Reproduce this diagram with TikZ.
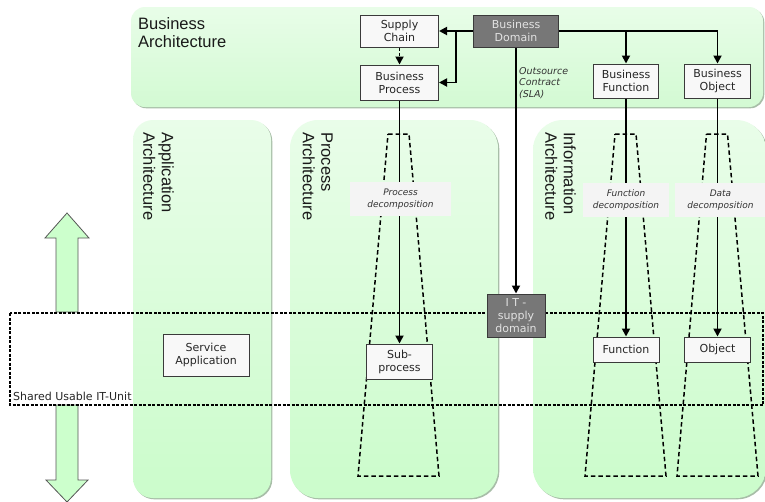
\documentclass[tikz,border=0pt]{standalone}
\usepackage{fontspec}
\setmainfont{Liberation Sans}
\newfontfamily\vfont{DejaVu Sans}
\usetikzlibrary{arrows.meta}
\definecolor{boxfill}{HTML}{F8F8F8}
\definecolor{boxline}{HTML}{3A3A3A}
\definecolor{darkfill}{HTML}{777777}
\definecolor{darktext}{HTML}{E2E2E2}
\definecolor{ptop}{HTML}{E9FDE9}
\definecolor{pbot}{HTML}{CBFCCB}
\definecolor{ttop}{HTML}{E8FDE8}
\definecolor{tbot}{HTML}{D3FAD3}
\definecolor{shadowc}{HTML}{A8BEA8}
\definecolor{arrfill}{HTML}{CCFFCC}
\definecolor{arrline}{HTML}{555555}
\definecolor{labfill}{HTML}{F4F4F4}
\begin{document}
\begin{tikzpicture}[x=1pt,y=-1pt,
  lbox/.style={draw=boxline, line width=1pt, fill=boxfill, inner sep=0pt, align=center,
    font=\vfont\fontsize{11}{13}\selectfont, text=black!85},
  dbox/.style={lbox, fill=darkfill, text=darktext},
  conn/.style={line width=1.8pt, -{Triangle[length=8pt,width=8pt]}},
  decolab/.style={fill=labfill, inner sep=0pt, align=center, minimum height=34pt,
    font=\vfont\itshape\fontsize{9}{12.3}\selectfont, text=black!80},
  trapline/.style={dash pattern=on 4.5pt off 3pt, line width=1.5pt},
  sharedline/.style={dash pattern=on 3pt off 1.5pt, line width=1.2pt},
  bigarrow/.style={fill=arrfill, draw=arrline, line width=0.8pt},
  panellab/.style={inner sep=0pt, align=left, font=\fontsize{16.5}{18.5}\selectfont, text=black!90},
  shadowbox/.style={fill=shadowc},
]
\useasboundingbox (0,0) rectangle (765,501);
\fill[white] (0,0) rectangle (765,501);

% panels
\fill[shadowbox, rounded corners=14pt] (132.3,8.3) rectangle (764.3,108.3);
\shade[top color=ttop, bottom color=tbot, rounded corners=14pt] (131,7) rectangle (763,107);
\fill[shadowbox, rounded corners=20pt] (134.3,121.3) rectangle (272.3,499.3);
\shade[top color=ptop, bottom color=pbot, rounded corners=20pt] (133,120) rectangle (271,498);
\fill[shadowbox, rounded corners=28pt] (291.3,121.3) rectangle (499.3,499.3);
\shade[top color=ptop, bottom color=pbot, rounded corners=28pt] (290,120) rectangle (498,498);
\fill[shadowbox, rounded corners=30pt] (534.3,121.3) rectangle (767.3,499.3);
\shade[top color=ptop, bottom color=pbot, rounded corners=30pt] (533,120) rectangle (766,498);

% panel labels
\node[panellab, anchor=north west] (ba) at (138,17) {Business\\Architecture};
\node[panellab, rotate=-90, anchor=north west] (aa) at (174,132) {Application\\Architecture};
\node[panellab, rotate=-90, anchor=north west] (pa) at (333,132) {Process\\Architecture};
\node[panellab, rotate=-90, anchor=north west] (ia) at (576,132) {Information\\Architecture};

% big arrows
\draw[bigarrow] (67,213) -- (89,238) -- (78,238) -- (78,312) -- (56,312) -- (56,238) -- (45,238) -- cycle;
\draw[bigarrow] (56,405) -- (78,405) -- (78,480) -- (88,480) -- (67,502) -- (46,480) -- (56,480) -- cycle;

% trapezoids
\draw[trapline] (388,134) -- (409,134) -- (439,476) -- (358,476) -- cycle;
\draw[trapline] (615,134) -- (636,134) -- (666,476) -- (585,476) -- cycle;
\draw[trapline] (706.5,134) -- (727.5,134) -- (758,476) -- (677,476) -- cycle;

% shared usable IT-unit
\draw[sharedline] (10,313) rectangle (763,405);
\node[anchor=base west, inner sep=0pt, font=\vfont\fontsize{11}{13}\selectfont, text=black!85] (shared) at (13,400.5) {Shared Usable IT-Unit};

% boxes
\node[lbox, minimum width=78pt, minimum height=32pt] (sc) at (399.5,31) {Supply\\Chain};
\node[dbox, minimum width=85pt, minimum height=32pt] (dom) at (516,31) {Business\\Domain};
\node[lbox, minimum width=78pt, minimum height=35pt] (bp) at (399.5,82.5) {Business\\Process};
\node[lbox, minimum width=65pt, minimum height=34pt] (bf) at (626,81) {Business\\Function};
\node[lbox, minimum width=66pt, minimum height=34pt] (bo) at (717.5,81) {Business\\Object};
\node[lbox, minimum width=66pt, minimum height=35pt] (sub) at (399.5,361.5) {Sub-\\process};
\node[dbox, minimum width=58pt, minimum height=43pt] (it) at (516,315.5) {I T -\\supply\\domain};
\node[lbox, minimum width=66pt, minimum height=25pt] (fn) at (626,349.5) {Function};
\node[lbox, minimum width=66pt, minimum height=25pt] (ob) at (717.5,349.5) {Object};
\node[lbox, minimum width=86pt, minimum height=42pt] (sa) at (206,355) {Service\\Application};

% connectors
\coordinate (j1) at (456,31);
\draw[conn] (dom.west) -- (sc.east);
\draw[conn] (j1) |- (bp.east);
\draw[conn, dash pattern=on 3pt off 2pt] (sc.south) -- (bp.north);
\draw[conn] (dom.east) -| (bo.north);
\draw[conn] (dom.east -| bf.north) -- (bf.north);
\draw[conn] (dom.south) -- (it.north);
\draw[conn] (bp.south) -- (sub.north);
\draw[conn] (bf.south) -- (fn.north);
\draw[conn] (bo.south) -- (ob.north);

\node[anchor=north west, inner sep=0pt, align=left, font=\vfont\itshape\fontsize{9.5}{11.5}\selectfont, text=black!80] (sla) at (519,67) {Outsource\\Contract\\(SLA)};

% decomposition labels
\node[decolab, minimum width=101pt] (pd) at (400.5,199) {Process\\decomposition};
\node[decolab, minimum width=86pt] (fd) at (626,200) {Function\\decomposition};
\node[decolab, minimum width=92pt] (dd) at (720.5,200) {Data\\decomposition};
\end{tikzpicture}
\end{document}
